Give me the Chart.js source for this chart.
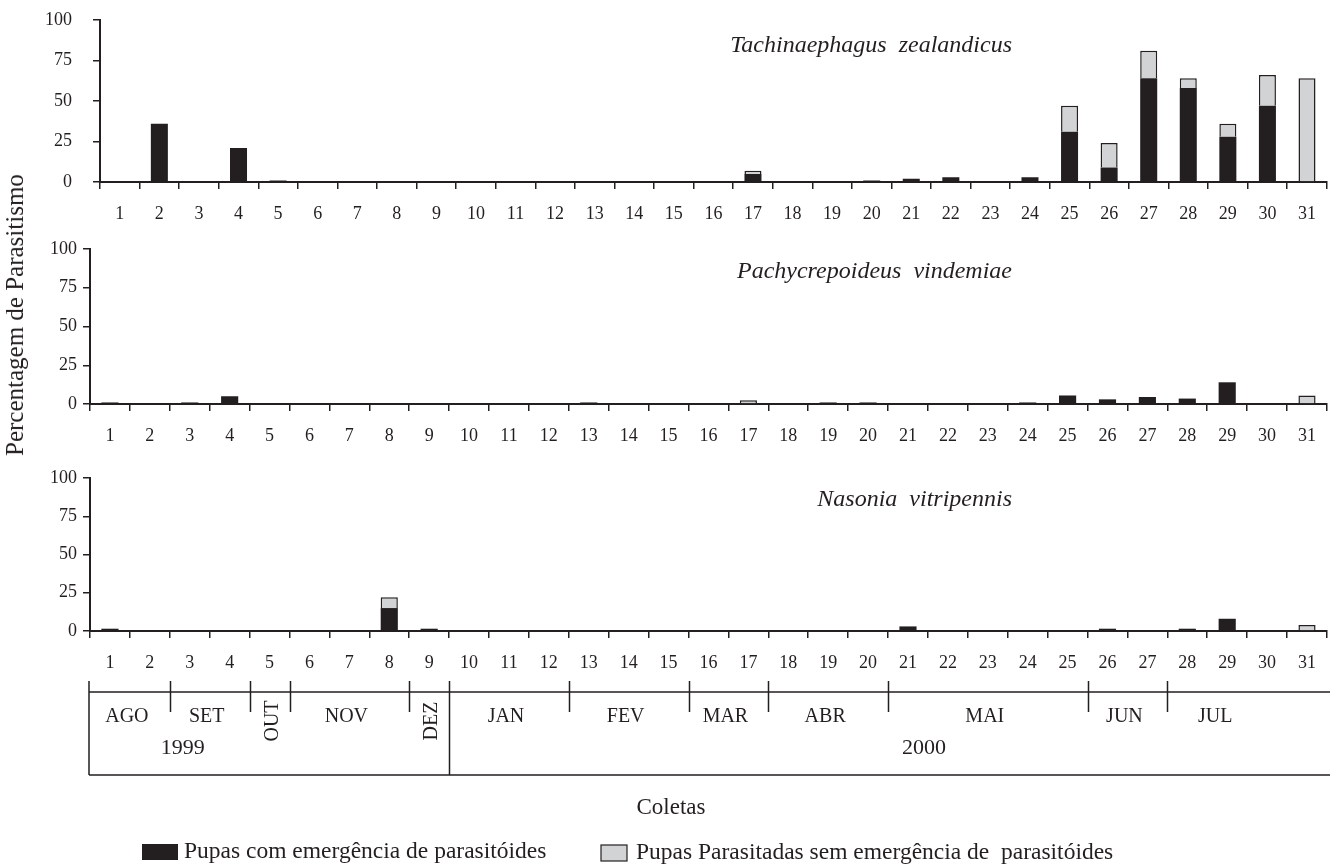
<!DOCTYPE html>
<html>
<head>
<meta charset="utf-8">
<title>Parasitismo por coleta</title>
<script src="https://cdn.jsdelivr.net/npm/chart.js@4.4.1/dist/chart.umd.min.js"></script>
<style>
  html, body { margin: 0; padding: 0; background: #fff; }
  #page { position: relative; width: 1330px; height: 867px; overflow: hidden; }
  #page canvas { position: absolute; left: 0; }
  #c1 { top: 0; }
  #c2 { top: 225px; }
  #c3 { top: 450px; }
  #ytitle {
    position: absolute; left: 15px; top: 315px;
    transform: translate(-50%, -50%) rotate(-90deg);
    white-space: nowrap; color: #231f20;
    font: 25px "Liberation Serif", "DejaVu Serif", serif;
  }
</style>
</head>
<body>
<div id="page">
  <canvas id="c1" width="1330" height="225"></canvas>
  <canvas id="c2" width="1330" height="225"></canvas>
  <canvas id="c3" width="1330" height="417"></canvas>
  <div id="ytitle">Percentagem de Parasitismo</div>
</div>
<script>
// --- dados ---
const coletas = ["1", "2", "3", "4", "5", "6", "7", "8", "9", "10", "11", "12", "13", "14", "15", "16",
  "17", "18", "19", "20", "21", "22", "23", "24", "25", "26", "27", "28", "29", "30", "31"];

const yTicks = [0, 25, 50, 75, 100];

const legendLabels = ["Pupas com emergência de parasitóides", "Pupas Parasitadas sem emergência de  parasitóides"];

// Tachinaephagus zealandicus
const tzEmerg = [0, 36, 0, 21, 1, 0, 0, 0, 0, 0, 0, 0, 0, 0, 0, 0, 5, 0, 0, 1, 2, 3, 0, 3, 31, 9, 64, 58, 28, 47, 0];
const tzSem = [0, 0, 0, 0, 0, 0, 0, 0, 0, 0, 0, 0, 0, 0, 0, 0, 2, 0, 0, 0, 0, 0, 0, 0, 16, 15, 17, 6, 8, 19, 64];

// Pachycrepoideus vindemiae
const pvEmerg = [1, 0, 1, 5, 0, 0, 0, 0, 0, 0, 0, 0, 1, 0, 0, 0, 0, 0, 1, 1, 0, 0, 0, 1, 5.5, 3, 4.5, 3.5, 14, 0, 0];
const pvSem = [0, 0, 0, 0, 0, 0, 0, 0, 0, 0, 0, 0, 0, 0, 0, 0, 2.5, 0, 0, 0, 0, 0, 0, 0, 0, 0, 0, 0, 0, 0, 5.5];

// Nasonia vitripennis
const nvEmerg = [1.5, 0, 0, 0, 0, 0, 0, 15, 1.5, 0, 0, 0, 0, 0, 0, 0, 0, 0, 0, 0, 3, 0, 0, 0, 0, 1.5, 0, 1.5, 8, 0, 0];
const nvSem = [0, 0, 0, 0, 0, 0, 0, 7, 0, 0, 0, 0, 0, 0, 0, 0, 0, 0, 0, 0, 0, 0, 0, 0, 0, 0, 0, 0, 0, 0, 4];

// meses e anos (primeira e última coleta de cada um)
const meses = ["AGO", "SET", "OUT", "NOV", "DEZ", "JAN", "FEV", "MAR", "ABR", "MAI", "JUN", "JUL"];
const mesInicio = [1, 3, 5, 6, 9, 10, 13, 16, 18, 21, 26, 28];
const mesFim = [2, 4, 5, 8, 9, 12, 15, 17, 20, 25, 27, 31];
const anos = ["1999", "2000"];
const anoInicio = [1, 10];
const anoFim = [9, 31];

// --- estilo ---
const ink = "#231f20";
const grey = "#d1d3d4";
const serif = '"Liberation Serif", "DejaVu Serif", serif';

// título da espécie (itálico, alinhado à direita)
const speciesTitle = {
  id: "speciesTitle",
  afterDraw(chart, args, opts) {
    const ctx = chart.ctx;
    ctx.save();
    ctx.font = "italic 24px " + serif;
    ctx.fillStyle = ink;
    ctx.textAlign = "right";
    ctx.textBaseline = "middle";
    ctx.fillText(opts.text, 1012, opts.y);
    ctx.restore();
  },
};

// fronteira entre a coleta n e a n+1 (em pixels)
function boundary(x, n) {
  if (n <= 0) return x.left;
  if (n >= coletas.length) return x.right;
  return (x.getPixelForValue(n - 1) + x.getPixelForValue(n)) / 2;
}

// tabela de meses / anos, "Coletas" e legenda
const monthTable = {
  id: "monthTable",
  afterDraw(chart) {
    const ctx = chart.ctx;
    const x = chart.scales.x;
    const b = chart.chartArea.bottom;
    const left = x.left - 1;
    const right = chart.width;
    ctx.save();
    ctx.strokeStyle = ink;
    ctx.fillStyle = ink;
    ctx.lineWidth = 1.5;

    // linhas horizontais e borda esquerda
    ctx.beginPath();
    ctx.moveTo(left, b + 61); ctx.lineTo(right, b + 61);
    ctx.moveTo(left, b + 144); ctx.lineTo(right, b + 144);
    ctx.moveTo(left, b + 50); ctx.lineTo(left, b + 144);
    ctx.stroke();

    // divisões entre meses
    const yearEnds = anoFim.slice(0, -1);
    ctx.beginPath();
    mesFim.forEach((fim, i) => {
      if (i === mesFim.length - 1) return;
      const px = Math.round(boundary(x, fim)) + 0.5;
      ctx.moveTo(px, b + 50);
      ctx.lineTo(px, yearEnds.includes(fim) ? b + 144 : b + 81);
    });
    ctx.stroke();

    // rótulos dos meses
    ctx.textBaseline = "middle";
    ctx.textAlign = "center";
    ctx.font = "20px " + serif;
    meses.forEach((m, i) => {
      const l = boundary(x, mesInicio[i] - 1);
      const r = boundary(x, mesFim[i]);
      if (mesInicio[i] === mesFim[i]) {
        ctx.save();
        ctx.translate((l + r) / 2 + 3, b + 90);
        ctx.rotate(-Math.PI / 2);
        ctx.fillText(m, 0, 0);
        ctx.restore();
      } else {
        const cx = m === "JUL" ? x.getPixelForValue(mesInicio[i] - 1) + 28 : (l + r) / 2 - 3;
        ctx.fillText(m, cx, b + 86);
      }
    });

    // anos
    ctx.font = "22px " + serif;
    ctx.fillText(anos[0], x.getPixelForValue(anoInicio[0]) + 33, b + 117);
    ctx.fillText(anos[1], (boundary(x, anoInicio[1] - 1) + boundary(x, anoFim[1])) / 2 + 36, b + 117);

    // título do eixo x
    ctx.font = "23px " + serif;
    ctx.fillText("Coletas", 671, b + 177);

    // legenda
    const ds = chart.data.datasets;
    const ly = b + 221;
    ctx.textAlign = "left";
    ctx.fillStyle = ds[0].backgroundColor;
    ctx.fillRect(142, ly - 8, 36, 16);
    ctx.fillStyle = ds[1].backgroundColor;
    ctx.fillRect(601, ly - 7, 26, 16);
    ctx.lineWidth = 1.2;
    ctx.strokeStyle = ink;
    ctx.strokeRect(601, ly - 7, 26, 16);
    ctx.fillStyle = ink;
    ctx.font = "23.5px " + serif;
    ctx.fillText(ds[0].label, 184, ly);
    ctx.fillText(ds[1].label, 636, ly + 1);
    ctx.restore();
  },
};

function makePanel(canvasId, emerg, sem, opts) {
  return new Chart(document.getElementById(canvasId), {
    type: "bar",
    data: {
      labels: coletas,
      datasets: [
        {
          label: legendLabels[0],
          data: emerg.map((v) => (v > 0 ? v : null)),
          backgroundColor: ink,
          borderColor: ink,
          borderWidth: 0,
          barPercentage: 0.43,
          categoryPercentage: 1,
        },
        {
          label: legendLabels[1],
          data: sem.map((v) => (v > 0 ? v : null)),
          backgroundColor: grey,
          borderColor: ink,
          borderWidth: 1.5,
          barPercentage: 0.43,
          categoryPercentage: 1,
        },
      ],
    },
    options: {
      responsive: false,
      animation: false,
      events: [],
      layout: { padding: { top: opts.top, right: 0, left: 0, bottom: opts.bottom || 0 } },
      plugins: {
        legend: { display: false },
        tooltip: { enabled: false },
        speciesTitle: { text: opts.title, y: opts.titleY },
      },
      scales: {
        x: {
          stacked: true,
          grid: { offset: true, drawOnChartArea: false, drawTicks: true, tickLength: 7, color: ink, lineWidth: 1.5 },
          border: { display: true, color: ink, width: 2 },
          ticks: { color: ink, font: { family: serif, size: 18 }, padding: 14, maxRotation: 0, autoSkip: false },
          afterFit: (s) => { s.height = opts.xHeight; },
        },
        y: {
          stacked: true,
          min: yTicks[0],
          max: yTicks[yTicks.length - 1],
          afterBuildTicks: (s) => { s.ticks = yTicks.map((v) => ({ value: v })); },
          grid: { drawOnChartArea: false, drawTicks: true, tickLength: 7, color: ink, lineWidth: 1.5 },
          border: { display: true, color: ink, width: 2 },
          ticks: { color: ink, font: { family: serif, size: 18 }, padding: opts.yPad },
          afterFit: (s) => {
            s.width = opts.yWidth;
            // a área do gráfico fica só com o padding do layout
            s.paddingTop = 0;
            s.paddingBottom = 0;
          },
        },
      },
    },
    plugins: opts.table ? [speciesTitle, monthTable] : [speciesTitle],
  });
}

makePanel("c1", tzEmerg, tzSem, {
  title: "Tachinaephagus  zealandicus", titleY: 46,
  top: 20, xHeight: 43, yWidth: 100, yPad: 21,
});
makePanel("c2", pvEmerg, pvSem, {
  title: "Pachycrepoideus  vindemiae", titleY: 47,
  top: 24, xHeight: 46, yWidth: 90, yPad: 6,
});
makePanel("c3", nvEmerg, nvSem, {
  title: "Nasonia  vitripennis", titleY: 50,
  top: 28, xHeight: 44, bottom: 192, yWidth: 90, yPad: 6, table: true,
});
</script>
</body>
</html>
